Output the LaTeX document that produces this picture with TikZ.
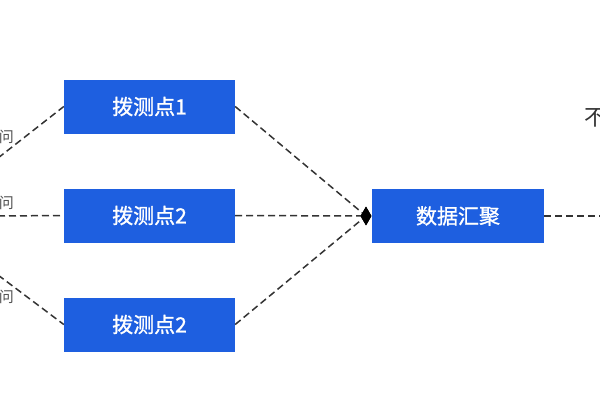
\documentclass[tikz,border=0pt]{standalone}
\usepackage{fontspec}
\newfontfamily\cjk{Noto Sans CJK SC}
\newfontfamily\cjkb[FakeBold=1.2]{Noto Sans CJK SC}
\usetikzlibrary{shapes.geometric}
\definecolor{boxblue}{HTML}{1E5FE0}
\definecolor{linegray}{HTML}{333333}
\tikzset{
  probe/.style={fill=boxblue, draw=none, minimum width=171pt, minimum height=54pt, inner sep=0pt, text=white, font=\cjkb\fontsize{21}{21}\selectfont},
  conn/.style={draw=linegray, line width=1.5pt, dash pattern=on 7pt off 4pt},
  edge text/.style={text=linegray!85, font=\cjk\fontsize{15}{15}\selectfont, inner sep=0pt},
  joint/.style={diamond, fill=black, draw=none, minimum width=11pt, minimum height=19pt, inner sep=0pt, aspect=0.55}
}
\begin{document}
\begin{tikzpicture}[x=1pt,y=-1pt]
\useasboundingbox[fill=white] (0,0) rectangle (600,400);
\node[probe] (p1) at (149.5,106.5) {拨测点1};
\node[probe] (p2) at (149.5,215.5) {拨测点2};
\node[probe] (p3) at (149.5,324.5) {拨测点2};
\node[probe, minimum width=172pt] (agg) at (458,216) {数据汇聚};
\node[joint] (j) at (366,216) {};
\coordinate (l1) at (-2,158);
\coordinate (l2) at (-2,216);
\coordinate (l3) at (-2,275);
\coordinate (r) at (602,216);
\node[edge text, anchor=east] (t1) at (14,137) {问};
\node[edge text, anchor=east] (t2) at (14,203) {问};
\node[edge text, anchor=east] (t3) at (14,297) {问};
\node[text=linegray, font=\cjk\fontsize{22}{22}\selectfont, inner sep=0pt, anchor=west] (t4) at (584,118) {不};
\draw[conn] (l1) -- (p1.west);
\draw[conn] (l2) -- (p2.west);
\draw[conn] (l3) -- (p3.west);
\draw[conn] (p1.east) -- (j.center);
\draw[conn] (p2.east) -- (j.center);
\draw[conn] (p3.east) -- (j.center);
\draw[conn] (agg.east) -- (r);
\node[joint] at (j) {};
\end{tikzpicture}
\end{document}
